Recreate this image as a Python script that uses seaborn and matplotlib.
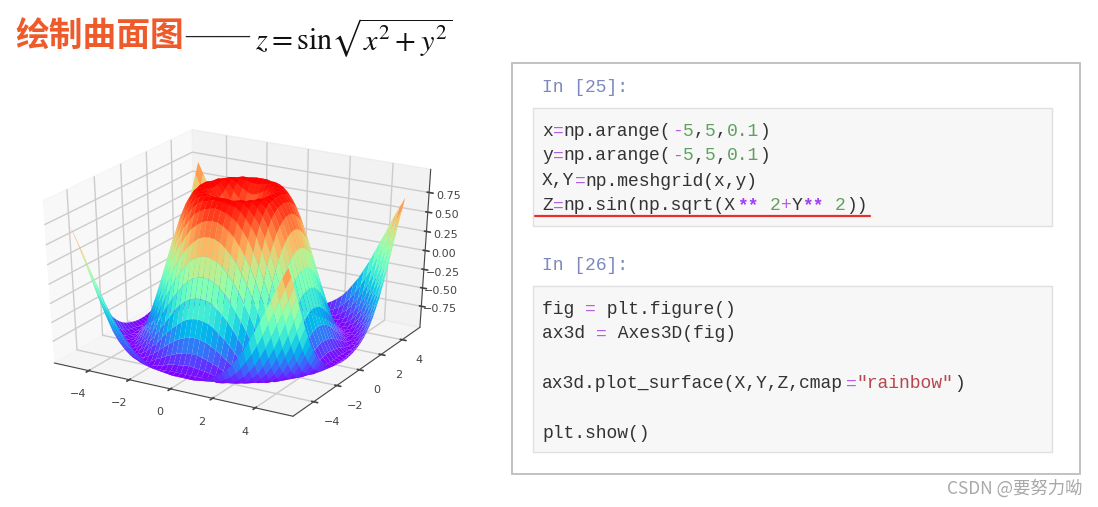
import numpy as np
import matplotlib
matplotlib.use("Agg")
import matplotlib.pyplot as plt
from matplotlib.patches import Rectangle
import seaborn as sns

GRID_STEPS = [-5, -4.75, -4.5, -4.25, -4, -3.75, -3.5, -3.25, -3, -2.75, -2.5, -2.25, -2, -1.75, -1.5, -1.25, -1, -0.75, -0.5, -0.25, 0,
              0.25, 0.5, 0.75, 1, 1.25, 1.5, 1.75, 2, 2.25, 2.5, 2.75, 3, 3.25, 3.5, 3.75, 4, 4.25, 4.5, 4.75, 5]
# heights read for one quadrant (upper triangle), the rest mirrors it
Z_UPPER = [
    [0, .25, .48, .68, .84, .95, 1.0, .98, .91, .78, .60, .38, .14, -.11, -.35, -.57, -.76, -.89, -.98, -1.0, -.96],
    [.35, .53, .71, .86, .96, 1.0, .98, .90, .77, .59, .37, .13, -.12, -.36, -.58, -.76, -.90, -.98, -1.0, -.96],
    [.65, .78, .90, .97, .99, .96, .88, .74, .56, .34, .10, -.14, -.38, -.60, -.78, -.91, -.98, -1.0, -.95],
    [.87, .95, .99, .99, .95, .84, .69, .50, .29, .05, -.19, -.42, -.63, -.80, -.92, -.98, -.99, -.94],
    [.98, .99, .97, .90, .79, .63, .43, .21, -.02, -.25, -.48, -.67, -.83, -.93, -.99, -.98, -.92],
    [.98, .92, .83, .70, .53, .34, .12, -.11, -.33, -.54, -.72, -.86, -.96, -.99, -.97, -.90],
    [.84, .74, .60, .42, .22, .01, -.21, -.42, -.61, -.78, -.90, -.98, -1.0, -.96, -.87],
    [.62, .46, .29, .09, -.12, -.32, -.52, -.69, -.83, -.93, -.99, -.99, -.94, -.83],
    [.31, .13, -.06, -.25, -.44, -.62, -.78, -.89, -.97, -1.0, -.97, -.90, -.78],
    [-.04, -.22, -.40, -.57, -.72, -.84, -.94, -.99, -.99, -.95, -.86, -.72],
    [-.38, -.54, -.69, -.81, -.91, -.98, -1.0, -.97, -.90, -.79, -.64],
    [-.67, -.80, -.90, -.96, -.99, -.98, -.94, -.85, -.71, -.54],
    [-.89, -.95, -.99, -.99, -.96, -.88, -.76, -.61, -.44],
    [-.99, -1.0, -.97, -.90, -.80, -.67, -.50, -.31],
    [-.97, -.91, -.82, -.70, -.55, -.37, -.18],
    [-.83, -.72, -.57, -.41, -.23, -.03],
    [-.58, -.43, -.26, -.07, .12],
    [-.27, -.09, .10, .27],
    [.08, .25, .43],
    [.42, .57],
    [.71],
]
XY_TICKS = [-4, -2, 0, 2, 4]
Z_TICKS = [-0.75, -0.50, -0.25, 0.00, 0.25, 0.50, 0.75]

TITLE = "绘制曲面图"
PROMPT_1 = "In [25]:"
PROMPT_2 = "In [26]:"
WATERMARK = "CSDN @要努力呦"

# n plain, o operator, d number, s string, b bold operator
CELL_1 = [
    [("x", "n"), ("=", "o"), ("np.arange(", "n"), ("-", "o"), ("5", "d"), (",", "n"), ("5", "d"), (",", "n"), ("0.1", "d"), (")", "n")],
    [("y", "n"), ("=", "o"), ("np.arange(", "n"), ("-", "o"), ("5", "d"), (",", "n"), ("5", "d"), (",", "n"), ("0.1", "d"), (")", "n")],
    [("X,Y", "n"), ("=", "o"), ("np.meshgrid(x,y)", "n")],
    [("Z", "n"), ("=", "o"), ("np.sin(np.sqrt(X", "n"), ("**", "b"), (" ", "n"), ("2", "d"), ("+", "o"), ("Y", "n"), ("**", "b"), (" ", "n"), ("2", "d"), ("))", "n")],
]
CELL_2 = [
    [("fig ", "n"), ("=", "o"), (" plt.figure()", "n")],
    [("ax3d ", "n"), ("=", "o"), (" Axes3D(fig)", "n")],
    [],
    [("ax3d.plot_surface(X,Y,Z,cmap", "n"), ("=", "o"), ('"rainbow"', "s"), (")", "n")],
    [],
    [("plt.show()", "n")],
]
CODE_COLORS = {"n": "#333333", "o": "#b45fe0", "d": "#5fa05f", "s": "#b5474f", "b": "#a040f0"}

sns.set_theme(style="white")
plt.rcParams["font.family"] = ["Noto Sans CJK SC", "DejaVu Sans"]
plt.rcParams["mathtext.fontset"] = "stix"

fig = plt.figure(figsize=(10.98, 5.07), dpi=100)

# left part, the surface
x = np.array(GRID_STEPS)
X, Y = np.meshgrid(x, x)
q = np.zeros((21, 21))
for i, row in enumerate(Z_UPPER):
    q[i, i:] = row
    q[i:, i] = row
half = np.vstack([q[::-1], q[1:]])
Z = np.hstack([half[:, ::-1], half[:, 1:]])

ax3d = fig.add_axes([0.0187, 0.1824, 0.390, 0.566], projection="3d")
# the old 3d axes stretched with its box, so keep the full position
ax3d.apply_aspect = lambda position=None: ax3d._set_position(ax3d.get_position(original=True), "active")
ax3d.set_box_aspect((1, 1, 1), zoom=1.082)
ax3d.plot_surface(X, Y, Z, cmap=sns.color_palette("rainbow", as_cmap=True), rstride=1, cstride=1, linewidth=0, antialiased=True)
ax3d.view_init(elev=30, azim=-60)
ax3d.set_xticks(XY_TICKS)
ax3d.set_yticks(XY_TICKS)
ax3d.set_zticks(Z_TICKS)
ax3d.set_zticklabels(["\u2212%.2f" % abs(t) if t < 0 else "%.2f" % t for t in Z_TICKS])
ax3d.tick_params(labelsize=8, colors="#444444", pad=2)
ax3d.tick_params(axis="z", pad=-1)
for axis in [ax3d.xaxis, ax3d.yaxis, ax3d.zaxis]:
    axis.line.set_linewidth(0.8)
    axis.line.set_color("#444444")
    for lab in axis.get_ticklabels():
        lab.set_family("DejaVu Sans")
ax3d.grid(True)

# everything else in a pixel overlay
ov = fig.add_axes([0, 0, 1, 1], facecolor="none")
ov.set_xlim(0, 1098)
ov.set_ylim(507, 0)
ov.axis("off")

ov.text(15, 36, TITLE, fontsize=24.3, fontweight="bold", color="#ee5a2a", va="center")
ov.text(185, 36, "——", family="Liberation Serif", fontsize=23.4, color="#222222", va="center")
ov.text(255, 38, r"$z=\mathrm{sin}\sqrt{x^2+y^2}$", fontsize=21.8, color="#111111", va="center")

ov.add_patch(Rectangle((512, 63), 568, 411, fc="white", ec="#bdbdbd", lw=1.3))
ov.add_patch(Rectangle((533, 108), 519, 118, fc="#f7f7f7", ec="#e0e0e0", lw=1))
ov.add_patch(Rectangle((533, 286), 519, 166, fc="#f7f7f7", ec="#e0e0e0", lw=1))

MONO = "Liberation Mono"
CHAR_W = 10.85


def draw_cell(lines, y0):
    for i, line in enumerate(lines):
        col = 0
        for text, kind in line:
            weight = "bold" if kind == "b" else "normal"
            ov.text(542 + col * CHAR_W, y0 + i * 25, text, family=MONO, fontsize=13, color=CODE_COLORS[kind], fontweight=weight, va="center")
            col += len(text)


ov.text(542, 88, PROMPT_1, family=MONO, fontsize=13, color="#7d88bd", va="center")
ov.text(542, 265, PROMPT_2, family=MONO, fontsize=13, color="#7d88bd", va="center")
draw_cell(CELL_1, 131)
draw_cell(CELL_2, 309)
ov.plot([535, 870], [216, 216], color="#e8302a", lw=1.6)

ov.text(947, 489, WATERMARK, fontsize=12.5, color="#a8a8a8", va="center")

plt.savefig("out.png", dpi=100)
